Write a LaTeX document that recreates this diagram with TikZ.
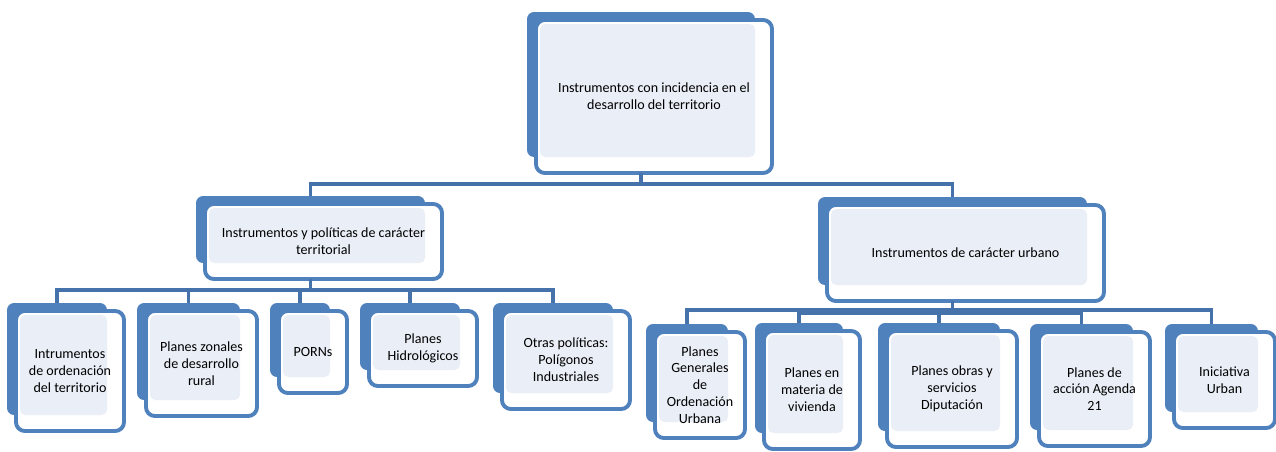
\documentclass[tikz,border=0pt]{standalone}
\usepackage{fontspec}
\setmainfont{Carlito}
\definecolor{boxblue}{HTML}{4F81BD}
\definecolor{linkblue}{HTML}{4672AC}
\definecolor{paleblue}{HTML}{EAEFF7}
\tikzset{
  backbox/.style  = {fill=boxblue, rectangle, rounded corners=4pt, inner sep=0pt},
  frontbox/.style = {draw=boxblue, fill=white, line width=2.2pt, rounded corners=5pt},
  innerfill/.style= {fill=paleblue, rounded corners=3pt},
  boxtext/.style  = {align=center, inner sep=0pt, font=\fontsize{8}{9.6}\selectfont},
  link/.style     = {draw=linkblue, line width=2pt},
}
% name, back box x1 y1 x2 y2 (pixels, y down), text
\newcommand{\orgbox}[6]{%
  \node [backbox, minimum width={(#4-#2)*0.02cm}, minimum height={(#5-#3)*0.02cm}] (#1) at ({(#2+#4)/2},{(#3+#5)/2}) {};
  \draw [frontbox] (#2+9,#3+8) rectangle (#4+17,#5+16);
  \fill [innerfill] (#2+13,#3+12) rectangle (#4,#5);
  \coordinate (#1-low) at ({(#2+#4)/2},#5+16);
  \node [boxtext] (#1-text) at ({(#2+#4+26)/2},{(#3+#5+24)/2}) {#6};
}

\begin{document}
\begin{tikzpicture}[x=0.02cm, y=-0.02cm]
    \useasboundingbox (0,0) rectangle (1276,451);
    \orgbox{root}{527}{12}{755}{157}{Instrumentos con incidencia en el\\desarrollo del territorio}
    \orgbox{terr}{196}{196}{425}{263}{Instrumentos y políticas de carácter\\territorial}
    \orgbox{urb}{818}{197}{1087}{285}{Instrumentos de carácter urbano}
    \orgbox{ord}{7}{303}{107}{415}{Intrumentos\\de ordenación\\del territorio}
    \orgbox{zon}{137}{303}{240}{400}{Planes zonales\\de desarrollo\\rural}
    \orgbox{porn}{270}{303}{330}{377}{PORNs}
    \orgbox{hid}{360}{303}{460}{370}{Planes\\Hidrológicos}
    \orgbox{pol}{493}{303}{613}{393}{Otras políticas:\\Polígonos\\Industriales}
    \orgbox{pgou}{646}{324}{728}{422}{Planes\\Generales\\de\\Ordenación\\Urbana}
    \orgbox{viv}{755}{323}{843}{433}{Planes en\\materia de\\vivienda}
    \orgbox{dip}{878}{323}{1000}{431}{Planes obras y\\servicios\\Diputación}
    \orgbox{agen}{1030}{324}{1133}{430}{Planes de\\acción Agenda\\21}
    \orgbox{urban}{1165}{324}{1258}{412}{Iniciativa\\Urban}

    \path (root-low) ++(0,11) coordinate (bus1);
    \draw [link] (root-low) -- (bus1) -| (terr.north);
    \draw [link] (bus1) -| (urb.north);

    \path (terr-low) ++(0,11) coordinate (bus2);
    \draw [link] (terr-low) -- (bus2) -| (ord.north);
    \draw [link] (bus2) -| (zon.north);
    \draw [link] (bus2) -| (porn.north);
    \draw [link] (bus2) -| (hid.north);
    \draw [link] (bus2) -| (pol.north);

    \path (urb-low) ++(0,9) coordinate (bus3);
    \path (urb-low) ++(0,12) coordinate (bus4);
    \draw [link] (urb-low) -- (bus4);
    \draw [link] (bus3) -| (pgou.north);
    \draw [link] (bus3) -| (urban.north);
    \draw [link] (bus4) -| (viv.north);
    \draw [link] (bus4) -| (dip.north);
    \draw [link] (bus4) -| (agen.north);
\end{tikzpicture}
\end{document}
